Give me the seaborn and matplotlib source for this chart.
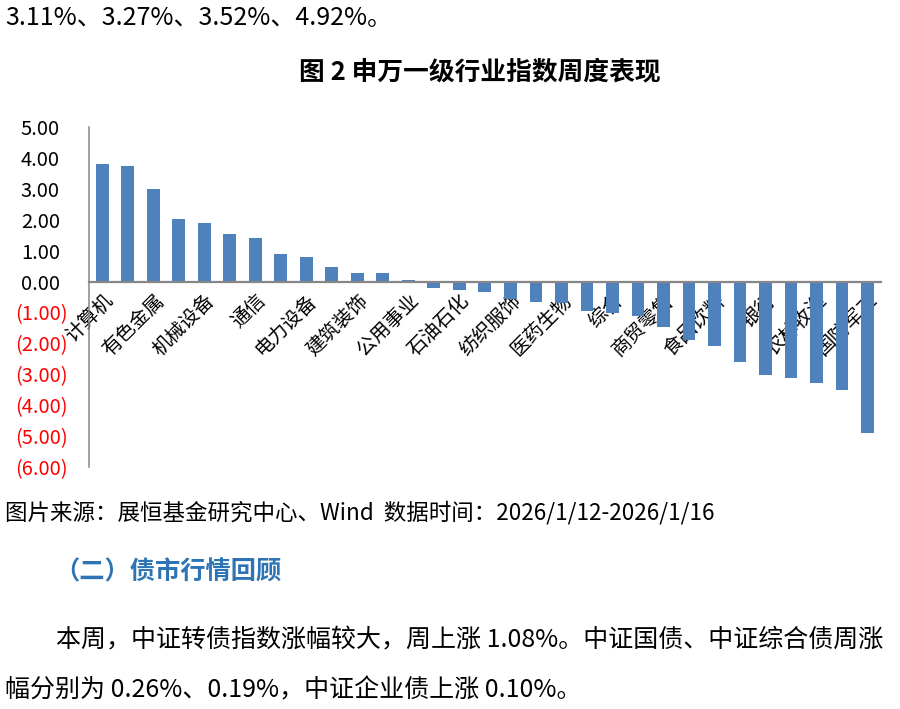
import matplotlib

matplotlib.use("Agg")
import matplotlib.pyplot as plt
from matplotlib.transforms import ScaledTranslation
import seaborn as sns

# 申万一级行业周涨跌幅（%），按涨跌幅排序；奇数位的行业名在原图中未显示
industries = [
    "计算机", "电子", "有色金属", "传媒", "机械设备", "基础化工", "通信", "汽车",
    "电力设备", "轻工制造", "建筑装饰", "建筑材料", "公用事业", "环保", "石油石化",
    "钢铁", "纺织服饰", "家用电器", "医药生物", "交通运输", "综合", "社会服务",
    "商贸零售", "美容护理", "食品饮料", "房地产", "银行", "非银金融", "农林牧渔",
    "煤炭", "国防军工",
]
weekly_change = [
    3.82, 3.76, 3.01, 2.02, 1.89, 1.53, 1.41, 0.89,
    0.80, 0.49, 0.27, 0.27, 0.05, -0.21, -0.27,
    -0.34, -0.55, -0.67, -0.68, -0.94, -1.01, -1.11,
    -1.46, -1.90, -2.10, -2.61, -3.02, -3.11, -3.27,
    -3.52, -4.92,
]
y_ticks = [5, 4, 3, 2, 1, 0, -1, -2, -3, -4, -5, -6]

sns.set_theme(style="white")
plt.rcParams["font.family"] = ["Noto Sans CJK SC", "DejaVu Sans"]
plt.rcParams["axes.unicode_minus"] = False

fig = plt.figure(figsize=(9, 7.09), dpi=100)
ax = fig.add_axes([0.0989, 0.3417, 0.8797, 0.4785])

sns.barplot(x=industries, y=weekly_change, color="#4f81bd", saturation=1,
            width=0.5, linewidth=0, ax=ax)

ax.set_xlim(-0.52, len(industries) - 0.48)
ax.set_ylim(-6, 5)
ax.set_xlabel("")
ax.set_ylabel("")

# 坐标轴：左轴 + 零线处的类别轴
for side in ("top", "right"):
    ax.spines[side].set_visible(False)
ax.spines["left"].set_color("#868686")
ax.spines["left"].set_linewidth(1.1)
ax.spines["bottom"].set_position(("data", 0))
ax.spines["bottom"].set_color("#868686")
ax.spines["bottom"].set_linewidth(1.6)
ax.tick_params(axis="both", length=0)
ax.tick_params(axis="x", pad=6)
ax.tick_params(axis="y", pad=15)

# y 轴标签：正数黑色，负数红色括号
ax.set_yticks(y_ticks)
ax.set_yticklabels([f"{v:.2f}" if v >= 0 else f"({abs(v):.2f})" for v in y_ticks],
                   fontsize=14.5)
shift = ScaledTranslation(-6 / 72, 0, fig.dpi_scale_trans)
for v, lab in zip(y_ticks, ax.get_yticklabels()):
    if v < 0:
        lab.set_color("#ff0000")
    else:
        lab.set_color("black")
        lab.set_transform(lab.get_transform() + shift)

# x 轴标签：每隔一个显示，45° 斜排
for i, lab in enumerate(ax.get_xticklabels()):
    lab.set_rotation(45)
    lab.set_ha("right")
    lab.set_rotation_mode("anchor")
    lab.set_fontsize(14)
    lab.set_color("black")
    if i % 2:
        lab.set_visible(False)

# 周围的正文文字
fig.text(0.006, 0.9746, "3.11%、3.27%、3.52%、4.92%。", fontsize=18, va="center", color="black")
fig.text(0.533, 0.8984, "图 2 申万一级行业指数周度表现", fontsize=18.5, fontweight="bold",
         ha="center", va="center", color="black")
fig.text(0.006, 0.2764, "图片来源：展恒基金研究中心、Wind  数据时间：2026/1/12-2026/1/16",
         fontsize=16.2, va="center", color="black")
fig.text(0.06, 0.1932, "（二）债市行情回顾", fontsize=18.2, fontweight="bold",
         va="center", color="#2e74b5")
fig.text(0.062, 0.0973, "本周，中证转债指数涨幅较大，周上涨 1.08%。中证国债、中证综合债周涨",
         fontsize=18, va="center", color="black")
fig.text(0.006, 0.0268, "幅分别为 0.26%、0.19%，中证企业债上涨 0.10%。",
         fontsize=18, va="center", color="black")

fig.savefig("out.png", dpi=100)
plt.close(fig)
